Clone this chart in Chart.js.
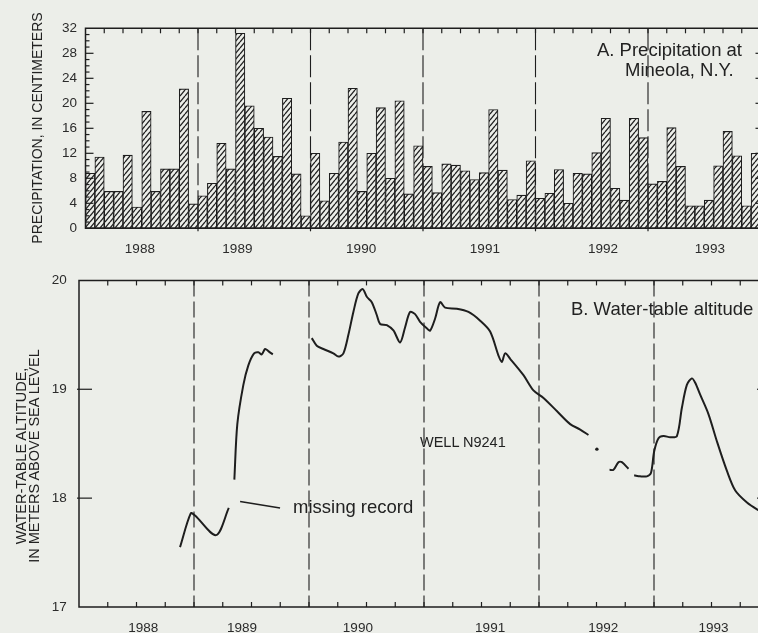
<!DOCTYPE html>
<html><head><meta charset="utf-8">
<script src="https://cdn.jsdelivr.net/npm/chart.js@4/dist/chart.umd.min.js"></script>
<style>
html,body{margin:0;padding:0;background:#eceee9;width:758px;height:633px;overflow:hidden;font-family:"Liberation Sans",Arial,sans-serif;color:#222}
#wa{position:absolute;left:0;top:0;width:775px;height:260px}
#wb{position:absolute;left:0;top:260px;width:785px;height:373px}
.t{position:absolute;white-space:nowrap;color:#222;line-height:1}
.rot{position:absolute;white-space:nowrap;text-align:center;transform:rotate(-90deg);color:#222}
</style></head><body>
<div id="wa"><canvas id="ca"></canvas></div>
<div id="wb"><canvas id="cb"></canvas></div>
<div class="rot" style="left:-93px;top:121px;width:260px;height:14px;font-size:14px;line-height:14px">PRECIPITATION, IN CENTIMETERS</div>
<div class="rot" style="left:-102.5px;top:443px;width:260px;height:26px;font-size:14.5px;line-height:13px">WATER-TABLE ALTITUDE,<br>IN METERS ABOVE SEA LEVEL</div>
<div class="t" style="left:597px;top:41px;font-size:18.5px">A. Precipitation at</div>
<div class="t" style="left:625px;top:61px;font-size:18.5px">Mineola, N.Y.</div>
<div class="t" style="left:571px;top:300px;font-size:18.5px">B. Water-table altitude</div>
<div class="t" style="left:420px;top:435px;font-size:14.5px">WELL N9241</div>
<div class="t" style="left:293px;top:497.5px;font-size:18.5px">missing record</div>
<script>
// ---------- data ----------
const YEARS = ['1988','1989','1990','1991','1992','1993'];
// monthly precipitation, Jan 1988 - Dec 1993 (cm)
const PRECIP_CM = [
  8.8, 11.4, 5.9, 5.9, 11.7, 3.4, 18.7, 5.9, 9.5, 9.5, 22.3, 3.9,
  5.2, 7.2, 13.6, 9.5, 31.2, 19.6, 16.0, 14.6, 11.5, 20.8, 8.7, 2.0,
  12.0, 4.4, 8.8, 13.8, 22.4, 5.9, 12.0, 19.3, 8.0, 20.4, 5.5, 13.2,
  9.9, 5.7, 10.3, 10.1, 9.2, 7.8, 8.9, 19.0, 9.3, 4.6, 5.3, 10.8,
  4.8, 5.6, 9.4, 4.0, 8.8, 8.7, 12.1, 17.6, 6.4, 4.5, 17.6, 14.5,
  7.1, 7.5, 16.1, 9.9, 3.6, 3.6, 4.5, 10.0, 15.5, 11.6, 3.6, 12.0
];
// water-table record (months since Jan 1988, altitude m); null = missing record
const WT_MONTH = [
  10.54, 11.66, 12.11, 14.30, 15.63, null,
  16.21, 16.52, 17.15, 17.67, 18.27, 18.72, 19.07, 19.42, 19.76, 20.22, null,
  24.29, 24.81, 25.50, 26.54, 27.07, 27.59, 28.11, 28.63, 29.15, 29.61, 30.03, 30.55, 31.08, 31.42,
  32.12, 32.81, 33.51, 34.03, 34.55, 35.07, 35.59, 36.29, 36.64, 37.16, 37.68, 38.20, 39.43, 40.64,
  41.86, 42.90, 43.77, 44.12, 44.47, 44.99, 46.38, 47.42, 48.47, 49.86, 51.25, 52.30, 53.16, null,
  55.36, 55.77, 56.29, 56.65, 57.34, null,
  57.93, 58.56, 59.26, 59.68, 60.02, 60.47, 60.99, 61.69, 62.39, 62.91, 63.43, 63.95, 64.30, 64.82,
  65.69, 66.57, 67.61, 68.48, 69.70, 70.88, 72.10
];
const WT_ALT_M = [
  17.55, 17.86, 17.84, 17.66, 17.91, null,
  18.17, 18.68, 19.04, 19.22, 19.33, 19.34, 19.32, 19.37, 19.35, 19.32, null,
  19.47, 19.40, 19.37, 19.33, 19.30, 19.33, 19.50, 19.71, 19.88, 19.92, 19.85, 19.80, 19.68, 19.60,
  19.59, 19.54, 19.43, 19.57, 19.71, 19.69, 19.62, 19.56, 19.54, 19.65, 19.80, 19.75, 19.74, 19.71,
  19.63, 19.53, 19.31, 19.25, 19.33, 19.28, 19.13, 18.99, 18.92, 18.80, 18.68, 18.63, 18.58, null,
  18.26, 18.26, 18.33, 18.33, 18.27, null,
  18.21, 18.20, 18.20, 18.23, 18.43, 18.55, 18.57, 18.56, 18.57, 18.83, 19.04, 19.10, 19.06, 18.95,
  18.77, 18.52, 18.25, 18.07, 17.96, 17.89, 17.83
];
const WT_DOT_MONTH = [54.04];
const WT_DOT_ALT = [18.45];
const MISSING_LEADER_MONTH = [16.81, 20.98];
const MISSING_LEADER_ALT = [17.97, 17.91];
// year label positions (months since Jan 1988) as placed in the figure
const YEAR_TICK_A = [5.8, 16.2, 29.4, 42.6, 55.2, 66.6];
const YEAR_TICK_B = [6.7, 17.0, 29.1, 42.9, 54.7, 66.2];
const YEAR_BOUNDS = [12, 24, 36, 48, 60];

// ---------- styling ----------
const BG = '#eceee9', INK = '#1e1e1e';
const FONT = {family:'"Liberation Sans", Arial, sans-serif', size:13.5};
const range = (a,b,s)=>{const r=[];for(let v=a;v<=b+1e-9;v+=s)r.push(v);return r;};

function hatchPattern(){
  const w=5,h=6,c=document.createElement('canvas'); c.width=w; c.height=h;
  const g=c.getContext('2d'); g.fillStyle=BG; g.fillRect(0,0,w,h);
  g.strokeStyle='#202020'; g.lineWidth=1.3;
  [-w,0,w].forEach(dx=>{g.beginPath(); g.moveTo(dx,h); g.lineTo(dx+w,0); g.stroke();});
  return g.createPattern(c,'repeat');
}

const framePlugin = {
  id:'frame',
  beforeDatasetsDraw(chart, args, o){
    const {ctx, chartArea:a} = chart, x = chart.scales.x;
    ctx.save(); ctx.strokeStyle=INK; ctx.lineWidth=1.1; ctx.setLineDash(o.dash);
    YEAR_BOUNDS.forEach(v=>{const px=x.getPixelForValue(v); ctx.beginPath(); ctx.moveTo(px,a.top); ctx.lineTo(px,a.bottom); ctx.stroke();});
    ctx.restore();
  },
  afterDatasetsDraw(chart, args, o){
    const {ctx, chartArea:a} = chart, x = chart.scales.x, y = chart.scales.y;
    ctx.save(); ctx.strokeStyle=INK; ctx.lineWidth=1.5; ctx.setLineDash([]);
    ctx.beginPath(); ctx.moveTo(a.right+5,a.top); ctx.lineTo(a.left,a.top); ctx.lineTo(a.left,a.bottom); ctx.lineTo(a.right+5,a.bottom); ctx.stroke();
    ctx.lineWidth=1.2;
    const seg=(x1,y1,x2,y2)=>{ctx.beginPath(); ctx.moveTo(x1,y1); ctx.lineTo(x2,y2); ctx.stroke();};
    o.topTicks.forEach(v=>{const p=x.getPixelForValue(v); seg(p,a.top,p,a.top+o.topLen);});
    o.bottomTicks.forEach(v=>{const p=x.getPixelForValue(v); seg(p,a.bottom,p,a.bottom-o.bottomLen);});
    o.leftTicks.forEach(t=>{const p=y.getPixelForValue(t[0]); seg(a.left-(t[2]||0),p,a.left+t[1],p);});
    o.rightTicks.forEach(t=>{const p=y.getPixelForValue(t[0]); seg(a.right,p,a.right-t[1],p);});
    ctx.restore();
  }
};

const common = {responsive:true, maintainAspectRatio:false, animation:false, events:[]};

// ---------- panel A ----------
new Chart(document.getElementById('ca'), {
  type:'bar',
  data:{datasets:[{
    data: PRECIP_CM.map((v,i)=>({x:i+0.5, y:v})),
    backgroundColor: hatchPattern(), borderColor: INK, borderWidth:1.1, borderSkipped:false,
    barPercentage:1, categoryPercentage:1
  }]},
  options:Object.assign({}, common, {
    layout:{padding:{left:0, top:28.3, right:14.5, bottom:0}},
    plugins:{legend:{display:false}, tooltip:{enabled:false},
      frame:{dash:[22,5],
        topTicks: range(2,70,2), topLen:5,
        bottomTicks: YEAR_BOUNDS, bottomLen:-3,
        leftTicks: range(1,31,1).map(v=>[v, v%4===0?8:4]),
        rightTicks: range(4,28,4).map(v=>[v,5])}},
    scales:{
      x:{type:'linear', min:0, max:72, offset:false,
         grid:{display:false, drawTicks:false}, border:{display:false},
         afterBuildTicks:s=>{s.ticks = YEAR_TICK_A.map(v=>({value:v}));},
         ticks:{autoSkip:false, maxRotation:0, padding:12.9, font:FONT, color:'#2b2b2b', callback:(v,i)=>YEARS[i]},
         afterFit:s=>{s.height=31.7;}},
      y:{min:0, max:32, grid:{display:false, drawTicks:false}, border:{display:false},
         ticks:{stepSize:4, padding:8.5, font:FONT, color:'#2b2b2b'},
         afterFit:s=>{s.width=85.5;}}
    }
  }),
  plugins:[framePlugin]
});

// ---------- panel B ----------
const wtPoints = [];
WT_MONTH.forEach((m,i)=>{ wtPoints.push(m===null ? {x:WT_MONTH[i-1], y:null} : {x:m, y:WT_ALT_M[i]}); });

new Chart(document.getElementById('cb'), {
  type:'line',
  data:{datasets:[
    {data:wtPoints, borderColor:INK, borderWidth:2, pointRadius:0, tension:0.3, spanGaps:false},
    {data:WT_DOT_MONTH.map((m,i)=>({x:m,y:WT_DOT_ALT[i]})), showLine:false, pointRadius:1.7, pointBorderWidth:0, pointBackgroundColor:INK},
    {data:MISSING_LEADER_MONTH.map((m,i)=>({x:m,y:MISSING_LEADER_ALT[i]})), borderColor:INK, borderWidth:1.5, pointRadius:0}
  ]},
  options:Object.assign({}, common, {
    layout:{padding:{left:0, top:18, right:16, bottom:0}},
    plugins:{legend:{display:false}, tooltip:{enabled:false},
      frame:{dash:[16,5],
        topTicks: range(3,69,3), topLen:5,
        bottomTicks: range(3,69,3), bottomLen:5,
        leftTicks: [[18,13,2],[19,13,2]],
        rightTicks: [[18,12],[19,12]]}},
    scales:{
      x:{type:'linear', min:0, max:72,
         grid:{display:false, drawTicks:false}, border:{display:false},
         afterBuildTicks:s=>{s.ticks = YEAR_TICK_B.map(v=>({value:v}));},
         ticks:{autoSkip:false, maxRotation:0, padding:13.4, font:FONT, color:'#2b2b2b', callback:(v,i)=>YEARS[i]},
         afterFit:s=>{s.height=26;}},
      y:{min:17, max:20, grid:{display:false, drawTicks:false}, border:{display:false},
         ticks:{stepSize:1, padding:12.3, font:FONT, color:'#2b2b2b'},
         afterFit:s=>{s.width=79;}}
    }
  }),
  plugins:[framePlugin]
});
</script>
</body></html>
